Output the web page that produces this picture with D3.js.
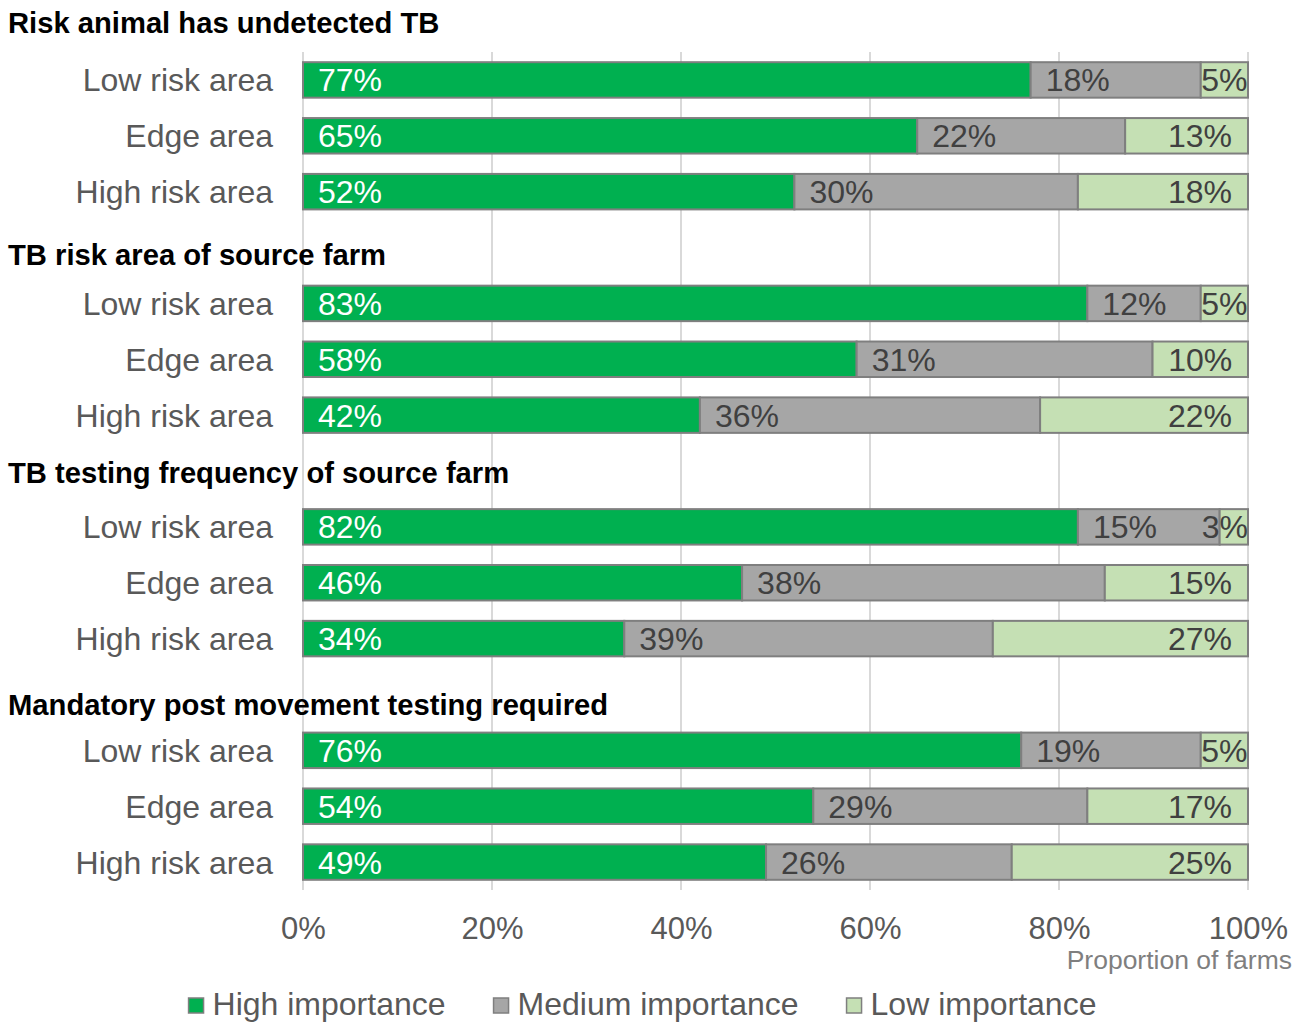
<!DOCTYPE html>
<html>
<head>
<meta charset="utf-8">
<script src="https://cdn.jsdelivr.net/npm/d3@7"></script>
<style>
  html, body { margin: 0; padding: 0; background: #fff; }
  svg { display: block; font-family: "Liberation Sans", Arial, sans-serif; }
</style>
</head>
<body>
<svg id="chart" width="1307" height="1023"></svg>
<script>
// Survey groups and the area rows within each group
const groups = [
  "Risk animal has undetected TB",
  "TB risk area of source farm",
  "TB testing frequency of source farm",
  "Mandatory post movement testing required"
];
const areas = ["Low risk area", "Edge area", "High risk area"];
const seriesNames = ["High importance", "Medium importance", "Low importance"];

// Percent of farms per group, in area order (Low, Edge, High)
const highImportance   = [[77, 65, 52], [83, 58, 42], [82, 46, 34], [76, 54, 49]];
const mediumImportance = [[18, 22, 30], [12, 31, 36], [15, 38, 39], [19, 29, 26]];
const lowImportance    = [[5, 13, 18],  [5, 10, 22],  [3, 15, 27],  [5, 17, 25]];

const xTicks = [0, 0.2, 0.4, 0.6, 0.8, 1];
const xAxisTitle = "Proportion of farms";

// ---- build rows (group headers occupy their own band slot, except the first) ----
const rows = [];
groups.forEach((g, gi) => {
  if (gi > 0) rows.push({ key: "h" + gi, header: g });
  areas.forEach((a, ai) => {
    rows.push({
      key: "r" + gi + "-" + ai,
      area: a,
      "High importance": highImportance[gi][ai],
      "Medium importance": mediumImportance[gi][ai],
      "Low importance": lowImportance[gi][ai]
    });
  });
});
const barRows = rows.filter(r => !r.header);

const colors = {
  "High importance": "#00b050",
  "Medium importance": "#a6a6a6",
  "Low importance": "#c5e0b4"
};
const labelColors = {
  "High importance": "#ffffff",
  "Medium importance": "#404040",
  "Low importance": "#404040"
};

const svg = d3.select("#chart");
const margin = { left: 303, right: 59, top: 52, bottom: 133 };
const W = 1307, H = 1023;

const x = d3.scaleLinear().domain([0, 1]).range([margin.left, W - margin.right]);
const y = d3.scaleBand()
  .domain(rows.map(r => r.key))
  .range([margin.top, H - margin.bottom])
  .paddingInner(0.365)
  .paddingOuter(0.1825);

// gridlines
svg.append("g").selectAll("line")
  .data(xTicks)
  .join("line")
  .attr("x1", d => x(d)).attr("x2", d => x(d))
  .attr("y1", margin.top).attr("y2", H - margin.bottom)
  .attr("stroke", "#d9d9d9")
  .attr("stroke-width", 2);

// 100% stacked layout
const stacked = d3.stack()
  .keys(seriesNames)
  .offset(d3.stackOffsetExpand)(barRows);

const segs = svg.append("g");
stacked.forEach(layer => {
  const key = layer.key;
  segs.append("g").selectAll("rect")
    .data(layer)
    .join("rect")
    .attr("x", d => x(d[0]))
    .attr("y", d => y(d.data.key))
    .attr("width", d => x(d[1]) - x(d[0]))
    .attr("height", y.bandwidth())
    .attr("fill", colors[key])
    .attr("stroke", "#7f7f7f")
    .attr("stroke-width", 2);
});

// value labels
const labels = svg.append("g").attr("font-size", 32);
stacked.forEach((layer, li) => {
  const key = layer.key;
  layer.forEach(d => {
    const t = labels.append("text")
      .attr("y", y(d.data.key) + y.bandwidth() / 2)
      .attr("dy", "0.36em")
      .attr("fill", labelColors[key])
      .text(d.data[key] + "%");
    if (li < 2) {
      t.attr("x", x(d[0]) + 15).attr("text-anchor", "start");
    } else {
      const w = t.node().getComputedTextLength();
      const segW = x(d[1]) - x(d[0]);
      const pad = Math.max(0, Math.min(16, (segW - w) / 2));
      t.attr("x", x(d[1]) - pad).attr("text-anchor", "end");
    }
  });
});

// category labels
svg.append("g").selectAll("text")
  .data(barRows)
  .join("text")
  .attr("x", 273)
  .attr("y", d => y(d.key) + y.bandwidth() / 2)
  .attr("dy", "0.36em")
  .attr("text-anchor", "end")
  .attr("font-size", 32)
  .attr("fill", "#595959")
  .text(d => d.area);

// group headings
const headerNudge = [9, 17, 12, 21];
svg.append("g").selectAll("text")
  .data(groups)
  .join("text")
  .attr("x", 8)
  .attr("y", (g, i) => {
    const c = i === 0
      ? y(rows[0].key) + y.bandwidth() / 2 - y.step()
      : y("h" + i) + y.bandwidth() / 2;
    return c + headerNudge[i];
  })
  .attr("font-size", 29.2)
  .attr("font-weight", "bold")
  .attr("fill", "#000")
  .text(d => d);

// x axis tick labels
const axis = d3.axisBottom(x).tickValues(xTicks).tickFormat(d3.format(".0%")).tickSize(0).tickPadding(0);
const ax = svg.append("g").attr("transform", `translate(0, ${H - margin.bottom})`).call(axis);
ax.select(".domain").remove();
ax.selectAll("text")
  .attr("font-family", "Liberation Sans, Arial, sans-serif")
  .attr("font-size", 31)
  .attr("fill", "#595959")
  .attr("dy", null)
  .attr("y", 49);

svg.append("text")
  .attr("x", 1292)
  .attr("y", 969)
  .attr("text-anchor", "end")
  .attr("font-size", 26.5)
  .attr("fill", "#7f7f7f")
  .text(xAxisTitle);

// legend
const legend = svg.append("g").attr("transform", "translate(0, 1015)");
const items = [];
seriesNames.forEach(name => {
  const g = legend.append("g");
  g.append("rect")
    .attr("x", 0).attr("y", -17)
    .attr("width", 15).attr("height", 15)
    .attr("fill", colors[name])
    .attr("stroke", "#7f7f7f")
    .attr("stroke-width", 1.5);
  const t = g.append("text")
    .attr("x", 24)
    .attr("font-size", 32)
    .attr("fill", "#595959")
    .text(name);
  const w = 24 + t.node().getComputedTextLength();
  items.push({ g, w });
});
const gap = 48;
const total = d3.sum(items, d => d.w) + gap * (items.length - 1);
let start = 642.5 - total / 2;
items.forEach(it => {
  it.g.attr("transform", `translate(${start}, 0)`);
  start += it.w + gap;
});
</script>
</body>
</html>
